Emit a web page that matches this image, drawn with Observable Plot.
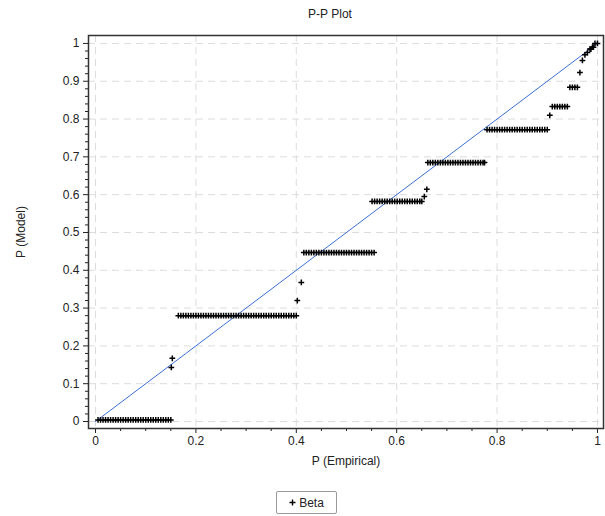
<!DOCTYPE html>
<html><head><meta charset="utf-8">
<script src="https://cdn.jsdelivr.net/npm/d3@7"></script>
<script src="https://cdn.jsdelivr.net/npm/@observablehq/plot@0.6"></script>
<style>
body{margin:0;background:#fff;font-family:"Liberation Sans",Arial,sans-serif;color:#222;}
#wrap{position:relative;width:605px;height:516px;overflow:hidden;}
#title{position:absolute;left:230px;top:7px;width:200px;text-align:center;font-size:12px;}
#chart{position:absolute;left:0;top:30px;}
#legend{position:absolute;left:276px;top:491px;width:59px;height:21px;border:1px solid #9a9a9a;border-radius:2px;font-size:12px;display:flex;align-items:center;justify-content:center;box-sizing:content-box;}
#legend svg{margin-right:3px;}
</style></head>
<body>
<div id="wrap">
  <div id="title">P-P Plot</div>
  <div id="chart"></div>
  <div id="legend"><svg width="7" height="7"><path d="M3.5,0.5V6.5M0.5,3.5H6.5" stroke="#000" stroke-width="1.4"/></svg><span>Beta</span></div>
</div>
<script>
// Model probability of each group of points and the empirical probabilities in it
const model = [0.004, 0.143, 0.167, 0.28, 0.32, 0.368, 0.447, 0.582, 0.595, 0.614, 0.685, 0.772, 0.81, 0.833, 0.884, 0.923, 0.955, 0.97, 0.976, 0.985, 0.99, 1.0];
const empirical = [
  [0.005,0.01,0.015,0.02,0.025,0.03,0.035,0.04,0.045,0.05,0.055,0.06,0.065,0.07,0.075,0.08,0.085,0.09,0.095,0.1,0.105,0.11,0.115,0.12,0.125,0.13,0.135,0.14,0.145,0.15],
  [0.151],
  [0.153],
  [0.165,0.17,0.175,0.18,0.185,0.19,0.195,0.2,0.205,0.21,0.215,0.22,0.225,0.23,0.235,0.24,0.245,0.25,0.255,0.26,0.265,0.27,0.275,0.28,0.285,0.29,0.295,0.3,0.305,0.31,0.315,0.32,0.325,0.33,0.335,0.34,0.345,0.35,0.355,0.36,0.365,0.37,0.375,0.38,0.385,0.39,0.395,0.4],
  [0.402],
  [0.41],
  [0.415,0.42,0.425,0.43,0.435,0.44,0.445,0.45,0.455,0.46,0.465,0.47,0.475,0.48,0.485,0.49,0.495,0.5,0.505,0.51,0.515,0.52,0.525,0.53,0.535,0.54,0.545,0.55,0.555],
  [0.551,0.556,0.561,0.566,0.571,0.576,0.581,0.586,0.591,0.596,0.601,0.606,0.611,0.616,0.621,0.626,0.631,0.636,0.641,0.646,0.65],
  [0.655],
  [0.66],
  [0.662,0.667,0.672,0.677,0.682,0.687,0.692,0.697,0.702,0.707,0.712,0.717,0.722,0.727,0.732,0.737,0.742,0.747,0.752,0.757,0.762,0.767,0.772,0.775],
  [0.78,0.785,0.79,0.795,0.8,0.805,0.81,0.815,0.82,0.825,0.83,0.835,0.84,0.845,0.85,0.855,0.86,0.865,0.87,0.875,0.88,0.885,0.89,0.895,0.9],
  [0.905],
  [0.91,0.915,0.92,0.925,0.93,0.935,0.94],
  [0.945,0.95,0.955,0.96],
  [0.965],
  [0.97],
  [0.975],
  [0.98],
  [0.985,0.987],
  [0.99,0.992],
  [0.995,1.0]
];
const xMajor = [0, 0.2, 0.4, 0.6, 0.8, 1];
const xMinor = [0.05,0.1,0.15,0.25,0.3,0.35,0.45,0.5,0.55,0.65,0.7,0.75,0.85,0.9,0.95];
const yMajor = [0, 0.1, 0.2, 0.3, 0.4, 0.5, 0.6, 0.7, 0.8, 0.9, 1];
const yMinor = [0.02,0.04,0.06,0.08,0.12,0.14,0.16,0.18,0.22,0.24,0.26,0.28,0.32,0.34,0.36,0.38,0.42,0.44,0.46,0.48,0.52,0.54,0.56,0.58,0.62,0.64,0.66,0.68,0.72,0.74,0.76,0.78,0.82,0.84,0.86,0.88,0.92,0.94,0.96,0.98];
const refLine = [{x:0,y:0},{x:1,y:1}];

const points = [];
model.forEach((m, i) => empirical[i].forEach(e => points.push({x: e, y: m})));

const fmt = d => String(d);
const chart = Plot.plot({
  width: 605, height: 450,
  marginLeft: 88, marginRight: 2, marginTop: 5, marginBottom: 52,
  style: {fontFamily: '"Liberation Sans", Arial, sans-serif', fontSize: "12px", color: "#222", background: "#fff"},
  x: {domain: [-0.014, 1.012]},
  y: {domain: [-0.0185, 1.021]},
  marks: [
    Plot.gridX(xMajor, {stroke: "#dcdcdc", strokeOpacity: 1, strokeDasharray: "7,5"}),
    Plot.gridY(yMajor, {stroke: "#dcdcdc", strokeOpacity: 1, strokeDasharray: "7,5"}),
    Plot.line(refLine, {x: "x", y: "y", stroke: "#3b6fd4", strokeWidth: 1}),
    Plot.dot(points, {x: "x", y: "y", symbol: "plus", r: 2, stroke: "#000", strokeWidth: 1.5}),
    Plot.axisX(xMajor, {tickSize: 5, tickFormat: fmt, tickPadding: 3, label: "P (Empirical)", labelAnchor: "center", labelArrow: "none", labelOffset: 36}),
    Plot.axisX(xMinor, {tickSize: 3, tickFormat: () => "", label: null}),
    Plot.axisY(yMajor, {tickSize: 5, tickFormat: fmt, tickPadding: 4, label: "P (Model)", labelAnchor: "center", labelArrow: "none", labelOffset: 72}),
    Plot.axisY(yMinor, {tickSize: 3, tickFormat: () => "", label: null}),
    Plot.frame({stroke: "#333", strokeWidth: 1.5})
  ]
});
document.getElementById("chart").appendChild(chart);
</script>
</body></html>
